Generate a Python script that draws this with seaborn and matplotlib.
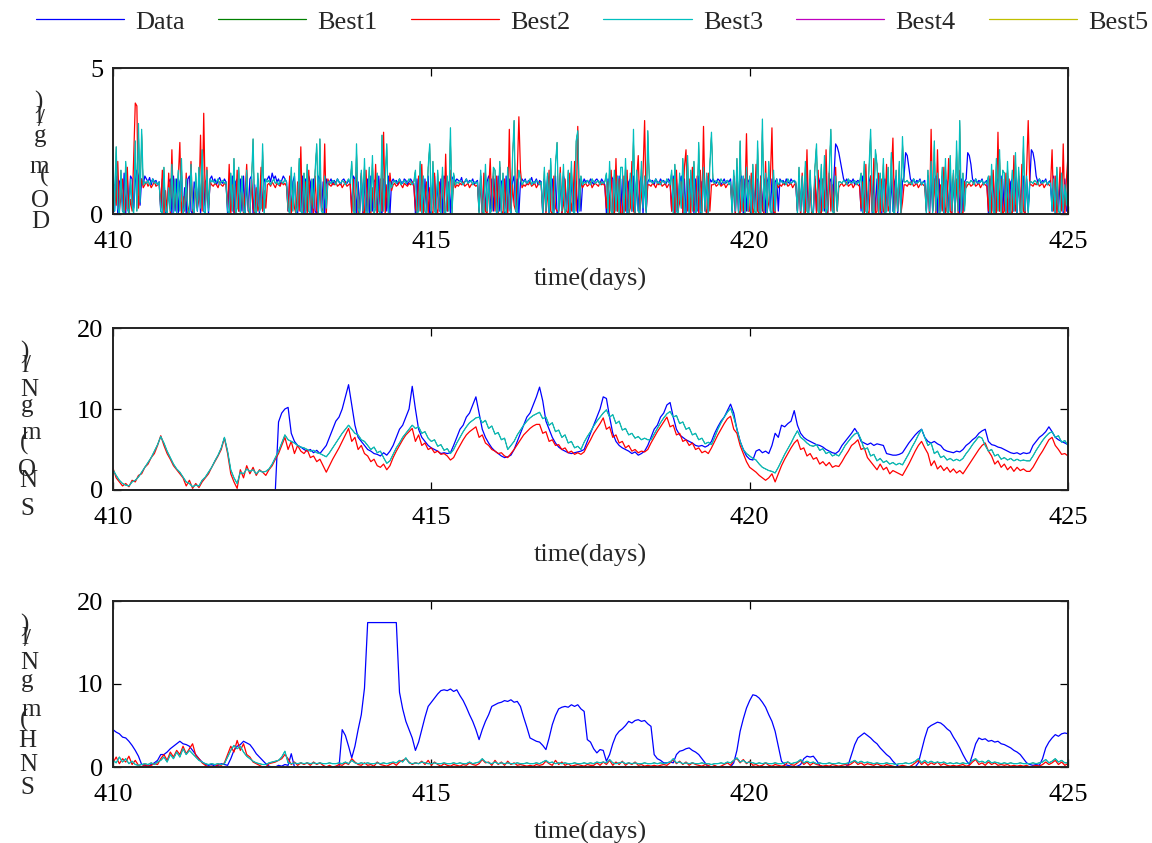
import numpy as np
import pandas as pd
import matplotlib
matplotlib.use("Agg")
import matplotlib.pyplot as plt
import seaborn as sns

# ---------------- data ----------------
SERIES = ["Data", "Best1", "Best2", "Best3", "Best4", "Best5"]
COLORS = ["#0000ff", "#008000", "#ff0000", "#00bfbf", "#bf00bf", "#bfbf00"]
XTICKS = [410, 415, 420, 425]
YLABELS = ["DO(mg/l)", "SNO(mgN/l)", "SNH(mgN/l)"]
XLABEL = "time(days)"

# DO, sampled every 0.025 day from day 410
DO_DATA = [
    1.2, 0.1, 1.3, 0.0, 1.1, 1.2, 0.1, 1.4, 0.0, 1.2, 0.1, 1.3, 1.2, 0.2, 1.1, 1.5, 1.3, 0.3, 1.2, 1.0, 1.3, 1.2, 1.1, 1.25, 1.0, 1.2, 1.1, 1.15, 1.0, 1.1, 0.1, 1.2, 1.3, 0.0, 0.1, 1.1, 1.2, 0.0, 1.3, 0.1,
    1.2, 0.0, 1.1, 1.3, 0.1, 0.9, 0.0, 1.2, 1.3, 0.1, 0.0, 1.1, 0.8, 0.1, 1.2, 0.0, 1.3, 0.1, 1.1, 1.2, 0.0, 1.2, 1.3, 1.1, 1.2, 1.0, 1.15, 1.25, 1.1, 1.05, 1.2, 1.1, 0.0, 1.2, 0.1, 1.3, 0.0, 1.1, 1.2, 0.1,
    1.2, 0.1, 1.3, 0.0, 1.1, 0.1, 1.2, 1.3, 0.0, 1.0, 0.1, 1.2, 0.0, 1.3, 0.1, 1.2, 1.1, 1.2, 1.3, 1.1, 1.4, 1.2, 1.3, 1.1, 1.2, 1.0, 1.15, 1.3, 1.2, 1.1, 0.1, 1.2, 0.0, 1.1, 1.3, 0.1, 0.0, 1.2, 0.1, 1.3,
    0.0, 1.2, 0.1, 1.3, 1.1, 0.0, 1.2, 0.1, 0.0, 1.3, 1.2, 0.1, 1.1, 0.0, 1.2, 1.0, 1.1, 1.2, 1.0, 1.15, 1.05, 1.2, 1.1, 1.0, 1.15, 1.2, 1.1, 1.05, 1.15, 1.1, 0.1, 1.3, 1.2, 0.0, 1.1, 0.1, 1.3, 0.0, 1.2, 0.1,
    1.2, 0.0, 1.3, 0.1, 1.1, 1.2, 0.0, 1.3, 0.1, 0.0, 1.2, 1.1, 0.1, 1.3, 0.0, 1.1, 1.2, 1.1, 1.15, 1.0, 1.2, 1.1, 1.05, 1.2, 1.15, 1.0, 1.1, 1.2, 1.1, 1.05, 0.0, 1.2, 0.1, 1.3, 1.1, 0.0, 1.2, 0.1, 1.3, 0.0,
    0.1, 1.2, 1.3, 0.0, 1.1, 0.1, 1.2, 0.0, 1.3, 1.2, 0.1, 1.1, 0.0, 1.2, 1.3, 1.1, 1.2, 1.15, 1.1, 1.25, 1.0, 1.1, 1.2, 1.05, 1.15, 1.1, 1.2, 1.0, 1.1, 1.15, 0.1, 1.3, 0.0, 1.2, 0.1, 1.1, 1.3, 0.0, 1.2, 0.1,
    1.2, 0.0, 1.3, 0.1, 1.1, 1.2, 0.0, 1.3, 0.1, 1.2, 0.0, 1.1, 1.3, 0.1, 1.2, 0.0, 1.1, 1.2, 1.1, 1.2, 1.0, 1.15, 1.1, 1.25, 1.05, 1.1, 1.2, 1.0, 1.15, 1.1, 0.0, 1.2, 0.1, 1.3, 0.0, 1.1, 1.2, 0.1, 1.3, 0.0,
    0.1, 1.2, 0.0, 1.3, 1.1, 0.1, 1.2, 0.0, 1.3, 0.1, 1.2, 1.1, 0.0, 1.2, 0.1, 1.0, 1.2, 1.1, 1.15, 1.05, 1.2, 1.1, 1.0, 1.15, 1.2, 1.1, 1.05, 1.2, 1.1, 1.0, 0.0, 1.2, 0.1, 1.3, 1.2, 0.0, 1.1, 0.1, 1.3, 0.0,
    1.2, 0.1, 1.3, 0.0, 1.1, 1.2, 0.1, 1.3, 0.0, 1.2, 0.1, 1.1, 1.3, 0.0, 1.2, 0.1, 1.1, 1.2, 1.1, 1.15, 1.0, 1.2, 1.1, 1.05, 1.2, 1.1, 1.15, 1.0, 1.1, 1.2, 1.1, 0.1, 1.3, 0.0, 1.2, 0.1, 1.1, 1.3, 0.0, 1.2,
    0.0, 1.2, 0.1, 1.3, 1.1, 0.0, 1.2, 0.1, 1.3, 0.0, 1.1, 1.2, 0.1, 1.3, 0.0, 1.2, 1.1, 1.2, 1.1, 1.05, 1.2, 1.15, 1.0, 1.1, 1.2, 1.05, 1.15, 1.1, 1.2, 0.1, 1.3, 0.0, 1.2, 0.1, 1.1, 1.3, 0.0, 1.2, 0.1, 1.1,
    1.2, 0.0, 1.3, 0.1, 1.1, 1.2, 0.0, 1.3, 0.1, 1.2, 0.0, 1.1, 1.3, 0.1, 1.2, 0.0, 1.1, 1.2, 0.1, 1.2, 1.1, 1.15, 1.0, 1.2, 1.1, 1.05, 1.2, 1.1, 1.15, 1.0, 0.1, 1.3, 0.0, 1.2, 0.1, 1.1, 1.3, 0.0, 1.2, 0.1,
    0.0, 1.2, 0.1, 1.3, 1.1, 0.0, 1.2, 0.1, 1.3, 0.0, 1.1, 1.2, 0.1, 1.3, 2.4, 2.3, 2.1, 1.8, 1.5, 1.2, 1.1, 1.2, 1.05, 1.15, 1.1, 1.2, 1.0, 1.1, 1.15, 1.1, 0.1, 1.3, 0.0, 1.2, 0.1, 1.1, 1.3, 0.0, 1.2, 0.1,
    1.2, 0.1, 1.3, 0.0, 1.1, 1.2, 0.1, 1.3, 0.0, 1.2, 0.1, 1.1, 1.3, 0.0, 1.2, 0.1, 1.1, 1.3, 2.1, 2.0, 1.6, 1.2, 1.1, 1.2, 1.05, 1.15, 1.1, 1.2, 1.0, 1.1, 1.15, 0.1, 1.3, 0.0, 1.2, 0.1, 1.1, 1.3, 0.0, 1.2,
    0.1, 1.3, 0.0, 1.2, 1.1, 0.1, 1.3, 0.0, 1.2, 0.1, 1.1, 1.3, 0.0, 1.2, 0.1, 1.1, 1.2, 2.1, 2.0, 1.7, 1.2, 1.1, 1.2, 1.05, 1.15, 1.1, 1.2, 1.0, 1.1, 1.15, 0.0, 1.2, 0.1, 1.3, 0.0, 1.1, 1.2, 0.1, 1.3, 0.0,
    1.2, 0.1, 1.3, 0.0, 1.1, 1.2, 0.1, 1.3, 0.0, 1.2, 0.1, 1.1, 1.3, 0.0, 1.2, 0.1, 1.1, 2.2, 2.1, 1.8, 1.3, 1.1, 1.2, 1.05, 1.15, 1.1, 1.2, 1.0, 1.1, 1.15, 0.1, 1.3, 0.0, 1.2, 0.1, 1.1, 1.3, 0.0, 1.2, 0.1,
    0.1]
DO_BEST2 = [
    0.0, 1.0, 0.3, 1.8, 0.1, 0.6, 1.2, 0.0, 0.2, 1.6, 0.0, 0.5, 0.1, 2.0, 3.8, 3.7, 0.2, 0.8, 1.2, 0.9, 1.0, 1.1, 0.95, 1.05, 0.9, 1.0, 1.1, 0.95, 1.0, 1.05, 0.2, 1.5, 0.0, 0.8, 0.1, 1.4, 0.0, 2.2, 0.1, 0.9,
    0.1, 1.2, 2.45, 0.0, 0.6, 0.1, 1.4, 0.0, 0.3, 1.8, 0.1, 0.0, 1.1, 0.2, 0.5, 2.7, 0.1, 3.45, 0.3, 1.6, 0.2, 1.1, 1.0, 0.95, 1.05, 1.0, 0.9, 1.1, 1.0, 0.95, 1.05, 1.0, 0.2, 1.7, 0.0, 1.0, 0.1, 0.0, 1.5, 0.1,
    0.1, 1.0, 0.0, 0.7, 1.7, 0.1, 0.0, 1.2, 0.2, 0.0, 0.9, 0.1, 0.3, 1.6, 0.1, 0.8, 0.2, 1.0, 1.05, 0.95, 1.1, 1.0, 0.9, 1.05, 1.0, 0.95, 1.1, 1.0, 1.05, 0.95, 0.1, 1.3, 0.0, 0.8, 0.2, 0.0, 1.1, 0.1, 2.3, 0.0,
    0.2, 1.1, 0.0, 1.5, 0.1, 0.6, 0.0, 1.3, 0.1, 0.0, 1.0, 0.2, 0.1, 2.4, 0.0, 1.2, 1.0, 0.95, 1.05, 1.0, 1.1, 0.95, 1.0, 1.05, 0.9, 1.0, 1.1, 0.95, 1.0, 1.05, 0.0, 1.2, 0.1, 1.6, 0.0, 0.3, 1.4, 0.1, 0.0, 1.5,
    0.1, 1.3, 0.0, 0.9, 0.2, 1.7, 0.0, 0.4, 1.2, 0.1, 2.8, 0.0, 1.0, 0.2, 1.4, 0.8, 1.0, 1.05, 0.95, 1.0, 1.1, 1.0, 0.9, 1.05, 1.0, 0.95, 1.05, 1.0, 1.1, 0.95, 0.2, 0.0, 1.3, 0.1, 1.7, 0.0, 0.5, 1.1, 0.0, 0.9,
    0.1, 0.0, 1.4, 0.2, 0.0, 1.1, 0.1, 1.3, 0.0, 2.05, 0.1, 0.9, 1.5, 0.2, 1.2, 0.9, 1.0, 0.95, 1.05, 1.0, 1.1, 0.95, 1.0, 1.05, 0.9, 1.0, 1.05, 1.0, 0.95, 1.0, 0.1, 1.2, 0.0, 1.4, 0.1, 0.0, 0.8, 1.9, 0.1, 1.3,
    0.1, 1.3, 0.0, 1.6, 0.1, 0.0, 1.2, 0.2, 0.0, 2.9, 0.1, 1.0, 0.3, 0.1, 1.4, 3.33, 1.5, 0.9, 1.0, 0.95, 1.05, 1.0, 1.1, 0.95, 1.0, 1.05, 0.9, 1.0, 1.1, 1.0, 0.1, 1.2, 0.0, 0.6, 1.5, 0.1, 0.0, 1.3, 0.2, 0.1,
    0.1, 1.6, 0.0, 0.3, 1.2, 0.1, 0.0, 1.4, 0.1, 0.5, 1.8, 0.1, 3.0, 0.2, 1.1, 0.9, 1.0, 1.05, 0.95, 1.0, 1.1, 0.9, 1.0, 1.05, 1.0, 0.95, 1.1, 1.0, 1.05, 0.95, 0.2, 1.1, 0.0, 1.5, 0.1, 0.0, 1.9, 0.1, 1.2, 0.0,
    0.0, 1.3, 0.1, 1.5, 0.0, 0.2, 1.8, 0.1, 0.0, 1.2, 2.0, 0.1, 0.6, 1.4, 3.2, 0.1, 1.0, 1.0, 0.95, 1.05, 1.0, 0.9, 1.05, 1.0, 1.1, 0.95, 1.0, 1.05, 0.9, 1.0, 1.05, 0.1, 1.2, 0.0, 1.5, 0.1, 0.4, 1.1, 0.0, 1.6,
    2.2, 0.1, 1.2, 0.0, 1.6, 0.1, 0.3, 1.3, 0.0, 1.5, 0.1, 3.0, 0.2, 0.0, 1.4, 0.1, 1.0, 1.0, 1.05, 0.95, 1.0, 1.1, 0.95, 1.0, 1.05, 0.9, 1.0, 1.05, 1.0, 0.2, 1.3, 0.0, 1.6, 0.1, 0.0, 1.2, 0.1, 0.5, 2.75, 0.1,
    0.1, 1.4, 0.0, 0.2, 1.7, 0.1, 0.0, 1.3, 0.2, 0.0, 1.8, 0.1, 0.4, 1.2, 2.95, 0.1, 0.0, 1.1, 0.9, 1.0, 0.95, 1.05, 1.0, 1.1, 0.95, 1.0, 1.05, 0.9, 1.0, 1.05, 0.1, 1.2, 0.0, 1.4, 0.1, 0.0, 2.2, 0.1, 0.8, 0.0,
    0.1, 1.3, 0.0, 1.5, 0.1, 0.0, 1.2, 0.2, 2.2, 0.0, 1.4, 0.1, 1.0, 0.0, 1.6, 0.1, 0.9, 1.0, 1.05, 0.95, 1.0, 1.1, 0.95, 1.0, 1.05, 0.9, 1.0, 1.05, 1.0, 0.95, 0.2, 1.1, 0.0, 1.7, 0.1, 0.0, 1.3, 0.1, 1.9, 0.0,
    0.1, 1.4, 0.0, 1.2, 0.1, 0.0, 1.7, 0.1, 0.3, 1.3, 2.6, 0.0, 1.1, 0.1, 1.5, 0.0, 0.4, 1.0, 1.0, 0.95, 1.05, 1.0, 1.1, 0.95, 1.0, 1.05, 0.9, 1.0, 1.05, 1.0, 0.95, 0.1, 1.3, 0.0, 2.9, 0.1, 1.2, 0.0, 2.2, 0.1,
    1.0, 0.1, 1.6, 0.0, 0.3, 1.9, 0.1, 0.0, 1.4, 0.1, 1.2, 0.0, 1.5, 0.1, 0.0, 1.1, 0.9, 1.0, 1.05, 0.95, 1.0, 1.1, 0.95, 1.0, 1.05, 0.9, 1.0, 1.05, 1.0, 0.95, 0.1, 1.3, 0.0, 1.5, 0.2, 0.0, 2.8, 0.1, 1.2, 0.0,
    0.1, 1.4, 0.0, 1.2, 0.1, 0.0, 2.0, 0.1, 0.4, 1.3, 0.0, 1.7, 0.1, 0.0, 1.5, 3.2, 1.0, 1.0, 0.95, 1.05, 1.0, 1.1, 0.95, 1.0, 1.05, 0.9, 1.0, 1.05, 1.0, 0.95, 2.2, 0.1, 1.3, 0.0, 0.5, 1.6, 0.1, 2.4, 0.0, 1.2,
    2.0]
DO_BEST3 = [
    2.2, 0.1, 2.3, 0.2, 0.0, 1.5, 0.1, 0.0, 1.8, 0.2, 0.0, 1.2, 0.3, 0.0, 2.5, 0.1, 3.1, 0.4, 2.9, 1.0, 1.1, 1.05, 1.15, 1.0, 1.1, 1.2, 1.05, 1.1, 1.0, 1.1, 0.1, 0.0, 1.6, 0.1, 0.0, 0.9, 0.1, 1.7, 0.0, 1.2,
    0.0, 1.5, 0.1, 1.9, 0.0, 0.2, 1.2, 0.1, 0.0, 1.7, 0.2, 0.0, 1.4, 0.1, 1.6, 0.2, 2.2, 0.1, 0.0, 1.5, 0.1, 1.2, 1.1, 1.15, 1.05, 1.1, 1.2, 1.0, 1.1, 1.15, 1.05, 1.1, 0.1, 0.0, 1.4, 0.1, 1.9, 0.0, 0.2, 1.6,
    0.0, 1.3, 0.1, 0.0, 1.5, 0.2, 0.0, 1.1, 2.57, 0.1, 0.0, 1.4, 0.1, 0.2, 2.4, 0.0, 1.2, 1.1, 1.15, 1.0, 1.1, 1.2, 1.05, 1.1, 1.0, 1.15, 1.1, 1.05, 1.2, 1.1, 0.2, 0.0, 1.6, 0.1, 1.4, 0.0, 0.2, 1.9, 0.1, 0.0,
    1.4, 0.0, 1.7, 0.1, 0.0, 1.2, 0.2, 1.5, 2.4, 0.0, 2.57, 0.1, 0.0, 1.3, 0.2, 1.1, 1.1, 1.05, 1.15, 1.1, 1.0, 1.2, 1.1, 1.05, 1.15, 1.1, 1.0, 1.1, 1.2, 1.05, 1.8, 0.1, 0.0, 2.4, 0.2, 0.0, 1.5, 0.1, 1.9, 0.0,
    0.0, 1.6, 0.1, 2.0, 0.0, 0.2, 1.4, 0.1, 0.0, 2.7, 0.1, 1.2, 2.4, 0.0, 1.1, 0.9, 1.1, 1.15, 1.05, 1.1, 1.2, 1.0, 1.1, 1.15, 1.05, 1.1, 1.2, 1.1, 1.0, 1.1, 1.5, 0.0, 0.1, 1.8, 0.0, 1.3, 0.1, 0.0, 1.6, 2.4,
    0.0, 1.8, 0.1, 0.0, 1.5, 0.2, 0.0, 1.6, 0.1, 0.0, 1.3, 0.1, 2.95, 0.0, 1.4, 1.0, 1.1, 1.05, 1.15, 1.1, 1.0, 1.1, 1.2, 1.05, 1.1, 1.15, 1.0, 1.1, 1.05, 1.1, 0.0, 1.5, 0.1, 0.0, 1.7, 0.1, 1.2, 0.0, 0.2, 1.6,
    1.5, 0.0, 0.1, 1.8, 0.0, 1.4, 0.1, 0.0, 1.6, 0.2, 0.0, 1.9, 3.2, 0.1, 0.0, 1.5, 1.2, 1.0, 1.1, 1.15, 1.05, 1.1, 1.2, 1.0, 1.1, 1.05, 1.15, 1.1, 1.0, 1.1, 0.0, 1.6, 0.1, 1.4, 0.0, 1.9, 0.1, 0.0, 1.7, 2.45,
    0.0, 1.4, 0.1, 1.7, 0.0, 0.2, 1.5, 0.0, 1.8, 0.1, 0.0, 2.5, 2.85, 0.1, 1.3, 1.0, 1.1, 1.05, 1.15, 1.1, 1.0, 1.2, 1.1, 1.05, 1.1, 1.15, 1.0, 1.1, 1.05, 1.1, 1.4, 0.0, 1.8, 0.1, 0.0, 1.5, 0.1, 1.3, 0.0, 1.6,
    1.6, 0.0, 1.9, 0.1, 0.0, 1.4, 0.1, 2.9, 0.0, 1.5, 0.1, 0.0, 1.8, 0.2, 1.3, 0.0, 2.85, 1.1, 1.15, 1.05, 1.1, 1.2, 1.05, 1.1, 1.0, 1.15, 1.1, 1.05, 1.2, 1.1, 1.0, 1.5, 0.0, 1.7, 0.1, 0.0, 1.4, 0.2, 1.9, 0.0,
    0.1, 2.0, 0.0, 1.5, 0.1, 1.8, 0.0, 0.2, 2.45, 0.1, 0.0, 1.6, 0.1, 1.4, 0.0, 1.7, 2.8, 1.1, 1.05, 1.15, 1.1, 1.0, 1.2, 1.1, 1.05, 1.1, 1.15, 1.0, 1.1, 0.0, 1.5, 0.1, 1.9, 0.0, 2.5, 0.1, 1.3, 0.0, 1.6, 0.1,
    1.3, 0.0, 1.7, 0.1, 0.0, 2.5, 0.1, 0.0, 3.25, 0.1, 1.4, 0.0, 1.8, 0.1, 0.0, 1.5, 0.1, 1.2, 1.0, 1.1, 1.15, 1.05, 1.1, 1.0, 1.2, 1.1, 1.05, 1.1, 1.15, 1.1, 0.0, 1.6, 0.1, 1.3, 0.0, 1.8, 0.1, 0.0, 1.5, 0.1,
    0.0, 1.6, 2.4, 0.1, 0.0, 1.7, 0.1, 2.0, 0.0, 0.2, 1.5, 2.9, 0.1, 0.0, 1.3, 0.1, 1.1, 1.1, 1.05, 1.15, 1.1, 1.0, 1.2, 1.1, 1.05, 1.1, 1.15, 1.0, 1.1, 1.05, 1.4, 0.0, 1.8, 0.1, 0.0, 1.6, 2.9, 0.1, 0.0, 2.2,
    1.7, 0.0, 1.4, 0.1, 1.9, 0.0, 0.1, 1.6, 0.0, 2.1, 0.1, 0.0, 1.5, 0.1, 1.8, 0.0, 2.65, 1.1, 1.1, 1.15, 1.05, 1.1, 1.0, 1.2, 1.1, 1.05, 1.1, 1.15, 1.0, 1.1, 1.05, 0.0, 1.5, 0.1, 1.8, 0.0, 2.5, 0.1, 1.4, 0.0,
    0.1, 1.6, 0.0, 1.9, 0.1, 0.0, 2.0, 0.1, 1.5, 0.0, 2.5, 0.1, 3.2, 0.0, 1.4, 0.1, 1.1, 1.1, 1.05, 1.15, 1.1, 1.0, 1.2, 1.1, 1.05, 1.1, 1.15, 1.0, 1.1, 1.05, 1.3, 0.0, 1.7, 0.1, 0.0, 1.9, 0.1, 2.2, 0.0, 1.5,
    1.4, 0.0, 1.8, 0.1, 0.0, 1.5, 0.1, 2.1, 0.0, 1.6, 0.1, 0.0, 2.65, 0.1, 1.3, 0.0, 1.1, 1.1, 1.05, 1.15, 1.1, 1.0, 1.2, 1.1, 1.05, 1.1, 1.15, 1.0, 1.1, 1.05, 0.1, 1.2, 0.0, 1.6, 0.1, 0.0, 1.4, 0.1, 1.0, 0.3,
    1.3]

# SNO, sampled every 0.05 day from day 410
SNO_DATA = [
    0.0, 0.0, 0.0, 0.0, 0.0, 0.0, 0.0, 0.0, 0.0, 0.0, 0.0, 0.0, 0.0, 0.0, 0.0, 0.0, 0.0, 0.0, 0.0, 0.0,
    0.0, 0.0, 0.0, 0.0, 0.0, 0.0, 0.0, 0.0, 0.0, 0.0, 0.0, 0.0, 0.0, 0.0, 0.0, 0.0, 0.0, 0.0, 0.0, 0.0,
    0.0, 0.0, 0.0, 0.0, 0.0, 0.0, 0.0, 0.0, 0.0, 0.0, 0.0, 0.0, 8.4, 9.5, 10.0, 10.2, 7.0, 6.0, 5.5, 5.3,
    5.0, 4.8, 5.0, 4.6, 4.9, 4.5, 5.0, 5.5, 6.5, 7.5, 8.5, 9.0, 10.0, 11.5, 13.0, 10.5, 8.0, 6.5, 6.0, 5.5,
    5.0, 4.8, 4.5, 4.4, 4.2, 4.6, 4.3, 4.8, 5.5, 6.5, 7.5, 8.0, 9.0, 10.0, 12.8, 10.0, 7.5, 6.5, 6.0, 5.5,
    5.2, 5.0, 4.8, 4.5, 4.6, 4.5, 4.6, 5.5, 6.5, 7.5, 8.0, 9.0, 9.5, 10.5, 11.5, 9.5, 7.5, 6.5, 5.8, 5.2,
    4.8, 4.5, 4.2, 4.0, 4.1, 4.3, 5.0, 6.0, 7.0, 8.0, 9.0, 9.5, 10.5, 11.5, 12.7, 11.0, 8.5, 7.5, 6.5, 5.8,
    5.3, 5.0, 4.8, 4.6, 4.5, 4.6, 4.7, 4.8, 5.0, 6.0, 7.0, 8.0, 9.0, 10.0, 11.5, 11.3, 9.0, 7.0, 6.0, 5.5,
    5.2, 5.0, 4.8, 4.5, 4.7, 4.3, 4.5, 4.8, 5.5, 6.5, 7.5, 8.0, 9.0, 9.5, 10.5, 10.8, 9.0, 7.5, 6.8, 6.5,
    6.2, 6.0, 5.8, 5.5, 5.4, 5.5, 5.3, 5.5, 6.0, 7.0, 7.8, 8.5, 9.0, 9.8, 10.6, 9.5, 7.5, 6.0, 5.0, 4.2,
    3.8, 3.7, 4.8, 5.0, 4.6, 4.8, 4.5, 5.5, 7.0, 6.5, 8.0, 7.8, 8.2, 8.5, 9.8, 8.0, 7.0, 6.5, 6.2, 6.0,
    5.8, 5.6, 5.5, 5.3, 5.0, 4.8, 4.6, 4.5, 4.8, 5.5, 6.0, 6.5, 7.0, 7.6, 7.0, 6.0, 5.8, 5.6, 5.8, 5.5,
    5.7, 5.6, 5.5, 4.5, 4.4, 4.3, 4.3, 4.4, 4.6, 5.2, 5.8, 6.3, 6.8, 7.2, 7.5, 6.5, 6.0, 5.8, 6.0, 5.7,
    5.5, 5.0, 4.8, 4.7, 4.6, 4.8, 4.7, 5.0, 5.5, 5.8, 6.2, 6.5, 7.0, 7.3, 7.5, 6.0, 5.6, 5.5, 5.3, 5.2,
    5.0, 4.8, 4.6, 4.5, 4.6, 4.4, 4.6, 4.5, 4.6, 5.5, 6.0, 6.5, 6.8, 7.2, 7.8, 7.2, 6.5, 6.2, 6.0, 5.8,
    5.6]
SNO_BEST2 = [
    2.7, 1.5, 1.0, 0.5, 0.8, 0.4, 1.2, 1.0, 1.8, 2.0, 2.8, 3.2, 4.0, 4.5, 5.5, 6.7, 5.5, 4.5, 3.8, 3.0,
    2.5, 2.0, 1.5, 0.5, 1.2, 0.2, 0.8, 0.3, 1.0, 1.5, 2.0, 2.8, 3.5, 4.2, 5.0, 6.4, 4.5, 2.0, 1.0, 0.2,
    2.5, 1.5, 3.0, 2.0, 2.8, 1.8, 2.5, 2.2, 1.8, 2.5, 3.0, 3.8, 4.5, 5.5, 6.5, 5.0, 6.0, 4.5, 5.5, 4.8,
    4.5, 5.0, 4.0, 4.2, 3.5, 3.8, 3.0, 2.2, 3.0, 3.8, 4.5, 5.2, 6.0, 6.8, 7.6, 6.0, 6.5, 5.0, 5.5, 4.5,
    4.2, 3.5, 3.8, 3.0, 2.8, 3.2, 2.5, 3.0, 4.0, 4.8, 5.5, 6.2, 6.8, 7.2, 7.6, 6.0, 6.8, 5.5, 5.8, 5.0,
    5.2, 4.6, 4.8, 4.4, 4.5, 4.2, 3.7, 4.0, 4.8, 5.5, 6.2, 6.8, 7.2, 7.5, 7.8, 6.5, 6.8, 5.8, 5.5, 5.0,
    4.8, 4.5, 4.6, 4.2, 4.0, 4.5, 5.0, 5.6, 6.2, 6.8, 7.2, 7.6, 7.9, 8.1, 8.1, 7.0, 7.2, 6.0, 6.2, 5.5,
    5.6, 5.0, 5.2, 4.6, 4.8, 4.4, 4.6, 4.4, 4.7, 5.5, 6.2, 7.0, 7.6, 8.2, 8.9, 7.5, 7.8, 6.5, 6.8, 5.8,
    6.0, 5.2, 5.5, 4.8, 5.0, 4.6, 4.8, 4.7, 5.0, 5.8, 6.5, 7.2, 7.8, 8.4, 9.0, 7.8, 8.0, 6.8, 7.0, 6.0,
    6.2, 5.5, 5.8, 5.0, 5.2, 4.6, 4.8, 4.5, 5.2, 6.0, 6.8, 7.5, 8.2, 8.8, 9.1, 7.5, 7.0, 5.5, 4.5, 3.5,
    2.8, 2.5, 2.2, 1.8, 1.5, 1.2, 1.5, 2.0, 1.0, 2.0, 3.0, 3.8, 4.5, 5.2, 5.8, 6.2, 5.0, 5.2, 4.2, 4.5,
    3.8, 4.0, 3.2, 3.5, 3.0, 3.4, 2.8, 3.0, 2.9, 3.5, 4.2, 4.8, 5.5, 5.8, 6.2, 5.0, 5.2, 4.0, 3.5, 3.0,
    2.5, 3.2, 2.5, 2.8, 2.0, 2.4, 2.2, 2.0, 1.8, 2.5, 3.2, 4.0, 4.8, 5.5, 6.0, 5.2, 4.5, 3.0, 3.6, 2.6,
    3.0, 2.4, 2.8, 2.2, 2.6, 2.1, 2.4, 2.0, 2.6, 3.2, 3.8, 4.4, 5.0, 5.5, 5.8, 4.8, 4.2, 3.2, 3.6, 2.8,
    3.2, 2.5, 2.9, 2.3, 2.8, 2.4, 2.6, 2.3, 2.3, 2.8, 3.5, 4.2, 4.8, 5.5, 6.2, 6.5, 5.5, 5.0, 4.4, 4.5,
    4.2]
SNO_BEST3 = [
    2.5, 1.8, 1.2, 0.8, 0.6, 0.5, 1.0, 1.2, 1.6, 2.2, 2.8, 3.4, 4.0, 4.8, 5.6, 6.6, 5.8, 4.8, 4.0, 3.2,
    2.6, 2.2, 1.6, 1.0, 0.8, 0.4, 0.6, 0.5, 1.2, 1.6, 2.2, 2.8, 3.6, 4.3, 5.2, 6.5, 4.8, 2.5, 1.5, 0.8,
    2.2, 2.0, 2.6, 2.3, 2.5, 2.0, 2.4, 2.2, 2.3, 2.6, 3.2, 4.0, 4.8, 5.8, 6.8, 6.2, 6.0, 5.8, 5.5, 5.3,
    5.2, 5.0, 4.8, 4.9, 4.6, 4.5, 4.3, 4.1, 4.6, 5.2, 5.8, 6.4, 7.0, 7.5, 8.0, 7.5, 7.0, 6.8, 6.2, 6.0,
    5.5, 5.0, 5.3, 4.6, 4.8, 4.0, 3.3, 3.6, 4.4, 5.2, 5.8, 6.5, 7.0, 7.5, 8.0, 7.6, 7.8, 7.0, 7.2, 6.4,
    6.0, 6.2, 5.4, 5.6, 4.9, 5.1, 4.5, 5.0, 5.8, 6.5, 7.2, 7.8, 8.3, 8.6, 8.9, 9.0, 8.3, 8.6, 7.6, 7.9,
    6.9, 7.1, 6.2, 6.4, 5.0, 5.5, 6.0, 6.8, 7.4, 8.0, 8.5, 8.9, 9.2, 9.4, 9.6, 8.8, 9.0, 8.0, 8.3, 7.2,
    7.4, 6.5, 6.8, 5.8, 6.0, 5.2, 5.4, 5.0, 5.9, 6.6, 7.2, 7.9, 8.5, 9.0, 9.5, 9.9, 9.0, 9.3, 8.2, 8.5,
    7.4, 7.6, 6.8, 7.0, 6.4, 6.6, 6.2, 6.4, 6.2, 6.2, 6.9, 7.6, 8.3, 8.9, 9.4, 9.7, 9.0, 9.2, 8.2, 8.4,
    7.5, 7.7, 6.8, 7.0, 6.2, 6.4, 5.7, 5.9, 5.6, 6.5, 7.5, 8.3, 9.0, 9.6, 10.1, 9.0, 7.5, 6.0, 5.0, 4.5,
    4.2, 3.9, 3.7, 3.2, 2.8, 2.6, 2.4, 2.3, 2.1, 2.8, 3.6, 4.4, 5.1, 5.8, 6.6, 7.3, 6.5, 6.2, 5.8, 5.5,
    5.4, 5.6, 4.9, 5.1, 4.5, 4.7, 4.2, 4.4, 4.2, 4.8, 5.5, 6.0, 6.5, 6.9, 7.1, 6.2, 5.0, 5.2, 4.2, 4.4,
    3.6, 3.9, 3.4, 3.6, 3.2, 3.4, 3.1, 3.3, 3.1, 3.8, 4.5, 5.3, 6.0, 6.8, 7.5, 6.5, 5.5, 5.8, 4.5, 4.8,
    4.0, 4.2, 3.7, 3.9, 3.6, 3.8, 3.6, 3.9, 4.5, 5.0, 5.6, 6.1, 6.6, 6.4, 5.5, 4.8, 5.0, 4.2, 4.4, 3.8,
    4.0, 3.7, 3.9, 3.6, 3.8, 3.6, 3.7, 3.6, 3.6, 4.2, 4.9, 5.5, 6.1, 6.6, 7.0, 7.2, 6.5, 6.7, 5.9, 6.1,
    5.5]

# SNH, sampled every 0.05 day from day 410
SNH_DATA = [
    4.5, 4.2, 4.0, 3.6, 3.5, 3.1, 2.6, 2.0, 1.3, 0.3, 0.2, 0.1, 0.3, 0.5, 0.8, 1.5, 1.5, 1.8, 2.2, 2.5,
    2.8, 3.1, 2.8, 2.7, 2.5, 2.0, 1.5, 1.0, 0.6, 0.3, 0.2, 0.3, 0.1, 0.2, 0.4, 0.3, 0.2, 1.0, 2.0, 2.5,
    2.7, 3.1, 2.9, 2.7, 2.2, 1.6, 1.2, 0.8, 0.4, 0.1, 0.0, 0.0, 0.2, 0.1, 0.3, 0.2, 1.6, 0.0, 0.0, 0.0,
    0.0, 0.0, 0.0, 0.0, 0.0, 0.0, 0.0, 0.0, 0.0, 0.0, 0.0, 0.0, 4.5, 3.8, 2.5, 1.1, 2.5, 4.5, 6.3, 9.5,
    17.4, 17.4, 17.4, 17.4, 17.4, 17.4, 17.4, 17.4, 17.4, 17.4, 9.0, 7.0, 5.5, 4.5, 3.5, 2.0, 3.0, 4.5, 6.0, 7.3,
    7.8, 8.3, 8.8, 9.2, 9.3, 9.2, 9.4, 9.1, 9.3, 8.6, 8.0, 7.2, 6.3, 5.5, 4.5, 3.3, 4.5, 5.5, 6.3, 7.3,
    7.5, 7.7, 7.8, 8.0, 7.9, 8.1, 7.8, 7.9, 7.3, 6.0, 4.8, 3.5, 3.3, 3.1, 3.0, 2.6, 2.1, 3.5, 5.1, 6.2,
    7.0, 7.2, 7.3, 7.2, 7.5, 7.3, 7.5, 7.0, 6.7, 3.3, 3.0, 2.2, 1.7, 2.1, 2.0, 0.7, 1.5, 2.8, 3.8, 4.3,
    4.6, 5.0, 5.5, 5.3, 5.6, 5.7, 5.5, 5.6, 5.2, 4.9, 1.5, 1.0, 0.8, 0.5, 0.5, 0.6, 0.5, 1.5, 1.9, 2.0,
    2.2, 2.3, 2.0, 1.8, 1.5, 1.0, 0.5, 0.0, 0.0, 0.0, 0.0, 0.0, 0.0, 0.0, 0.0, 0.5, 2.0, 4.3, 5.8, 7.1,
    8.0, 8.7, 8.6, 8.3, 7.8, 7.2, 6.3, 5.5, 4.3, 2.5, 0.7, 0.3, 0.2, 0.1, 0.0, 0.1, 0.3, 1.0, 1.3, 1.2,
    1.3, 0.8, 0.2, 0.0, 0.0, 0.0, 0.0, 0.0, 0.0, 0.0, 0.0, 0.3, 1.5, 2.7, 3.5, 3.8, 4.1, 3.8, 3.5, 3.1,
    2.8, 2.3, 1.9, 1.5, 1.2, 0.7, 0.3, 0.0, 0.0, 0.0, 0.0, 0.0, 0.0, 0.5, 2.0, 3.5, 4.7, 5.0, 5.2, 5.4,
    5.3, 5.0, 4.6, 4.3, 3.6, 3.0, 2.3, 1.5, 0.8, 0.3, 1.5, 2.8, 3.5, 3.3, 3.4, 3.1, 3.2, 3.0, 3.1, 2.8,
    2.7, 2.5, 2.3, 2.0, 1.8, 1.5, 1.0, 0.5, 0.3, 0.2, 0.3, 0.2, 1.0, 2.3, 3.0, 3.5, 3.9, 3.7, 4.0, 4.1,
    4.0]
SNH_BEST2 = [
    0.5, 1.2, 0.4, 1.0, 0.6, 1.3, 0.3, 0.8, 0.2, 0.0, 0.3, 0.1, 0.2, 0.4, 0.3, 1.0, 1.5, 0.8, 1.8, 1.2,
    2.0, 1.5, 2.5, 1.6, 2.2, 2.8, 1.4, 1.0, 0.5, 0.2, 0.0, 0.1, 0.0, 0.3, 0.2, 0.5, 1.5, 2.5, 1.8, 3.2,
    2.0, 2.8, 1.5, 1.2, 0.6, 0.4, 0.2, 0.0, 0.0, 0.4, 0.5, 0.6, 0.8, 1.0, 1.5, 1.0, 0.3, 0.6, 0.2, 0.5,
    0.3, 0.5, 0.2, 0.6, 0.3, 0.5, 0.2, 0.0, 0.2, 0.0, 0.1, 0.3, 0.2, 0.5, 0.3, 1.0, 0.6, 0.3, 0.2, 0.5,
    0.2, 0.3, 0.1, 0.6, 0.3, 0.2, 0.1, 0.3, 0.5, 0.2, 0.6, 0.8, 1.0, 0.6, 0.3, 0.5, 0.4, 0.7, 0.3, 0.8,
    0.2, 0.6, 0.3, 0.1, 0.4, 0.2, 0.1, 0.3, 0.2, 0.1, 0.3, 0.2, 0.5, 0.3, 0.2, 0.4, 0.9, 0.5, 0.6, 0.2,
    0.8, 0.3, 0.6, 0.2, 0.7, 0.3, 0.5, 0.2, 0.3, 0.2, 0.1, 0.2, 0.1, 0.3, 0.2, 0.3, 0.7, 0.4, 0.2, 0.8,
    0.3, 0.6, 0.2, 0.4, 0.1, 0.2, 0.3, 0.2, 0.1, 0.3, 0.2, 0.2, 0.5, 0.2, 0.6, 0.3, 0.8, 0.2, 0.6, 0.3,
    0.7, 0.2, 0.5, 0.3, 0.6, 0.2, 0.3, 0.1, 0.2, 0.1, 0.2, 0.1, 0.2, 0.3, 0.2, 0.5, 0.9, 0.4, 0.7, 0.3,
    0.6, 0.2, 0.5, 0.3, 0.2, 0.1, 0.3, 0.2, 0.0, 0.2, 0.0, 0.1, 0.3, 0.5, 0.2, 0.8, 1.0, 0.5, 0.9, 0.4,
    0.7, 0.2, 0.3, 0.1, 0.2, 0.5, 0.2, 0.1, 0.3, 0.2, 0.1, 0.2, 0.6, 0.3, 0.2, 0.5, 0.8, 0.3, 0.6, 0.2,
    0.5, 0.3, 0.2, 0.1, 0.2, 0.1, 0.3, 0.2, 0.1, 0.2, 0.3, 0.2, 0.4, 0.7, 0.3, 0.5, 0.2, 0.4, 0.3, 0.2,
    0.4, 0.2, 0.1, 0.3, 0.2, 0.1, 0.0, 0.1, 0.2, 0.1, 0.0, 0.2, 0.5, 0.8, 0.3, 0.6, 0.2, 0.5, 0.3, 0.6,
    0.2, 0.4, 0.2, 0.1, 0.2, 0.1, 0.2, 0.3, 0.1, 0.2, 0.6, 0.9, 0.3, 0.5, 0.2, 0.6, 0.3, 0.5, 0.2, 0.3,
    0.2, 0.3, 0.1, 0.2, 0.1, 0.2, 0.1, 0.2, 0.0, 0.1, 0.2, 0.1, 0.3, 0.6, 0.3, 0.5, 0.8, 0.3, 0.6, 0.2,
    0.4]
SNH_BEST3 = [
    0.8, 0.5, 1.2, 0.6, 1.0, 0.4, 0.7, 0.3, 0.2, 0.3, 0.4, 0.3, 0.5, 0.3, 0.6, 0.8, 1.2, 0.6, 1.5, 1.0,
    1.8, 1.2, 2.2, 1.5, 2.0, 1.6, 1.2, 0.8, 0.6, 0.4, 0.3, 0.4, 0.3, 0.4, 0.3, 0.4, 1.2, 2.0, 2.6, 2.2,
    2.5, 1.8, 1.3, 1.0, 0.7, 0.5, 0.4, 0.3, 0.3, 0.5, 0.6, 0.7, 0.8, 1.2, 1.9, 0.5, 0.4, 0.5, 0.4, 0.5,
    0.4, 0.5, 0.4, 0.5, 0.4, 0.5, 0.4, 0.4, 0.5, 0.4, 0.4, 0.5, 0.4, 0.6, 0.4, 0.8, 0.5, 0.4, 0.5, 0.4,
    0.5, 0.4, 0.4, 0.5, 0.4, 0.5, 0.4, 0.5, 0.6, 0.5, 0.8, 0.6, 1.1, 0.5, 0.4, 0.5, 0.4, 0.6, 0.5, 0.4,
    0.4, 0.5, 0.4, 0.4, 0.5, 0.4, 0.4, 0.5, 0.4, 0.5, 0.4, 0.4, 0.6, 0.4, 0.5, 0.6, 1.0, 0.6, 0.5, 0.4,
    0.6, 0.4, 0.5, 0.4, 0.5, 0.4, 0.4, 0.5, 0.4, 0.4, 0.5, 0.4, 0.4, 0.5, 0.4, 0.6, 0.8, 0.5, 0.6, 0.4,
    0.5, 0.4, 0.5, 0.4, 0.4, 0.5, 0.4, 0.4, 0.5, 0.4, 0.5, 0.4, 0.6, 0.5, 0.6, 0.5, 0.9, 0.5, 0.4, 0.5,
    0.6, 0.4, 0.5, 0.4, 0.5, 0.4, 0.4, 0.5, 0.4, 0.4, 0.5, 0.4, 0.5, 0.4, 0.5, 0.6, 1.0, 0.5, 0.6, 0.4,
    0.5, 0.4, 0.5, 0.4, 0.4, 0.5, 0.4, 0.4, 0.3, 0.4, 0.4, 0.5, 0.4, 0.6, 0.5, 0.8, 1.1, 0.6, 0.8, 0.5,
    0.6, 0.5, 0.4, 0.5, 0.4, 0.5, 0.4, 0.4, 0.5, 0.4, 0.4, 0.5, 0.6, 0.4, 0.5, 0.6, 0.9, 0.5, 0.7, 0.5,
    0.6, 0.4, 0.5, 0.4, 0.4, 0.5, 0.4, 0.4, 0.5, 0.4, 0.4, 0.5, 0.6, 0.8, 0.5, 0.7, 0.5, 0.6, 0.5, 0.4,
    0.5, 0.4, 0.4, 0.5, 0.4, 0.4, 0.3, 0.4, 0.4, 0.5, 0.4, 0.5, 0.7, 1.0, 0.5, 0.8, 0.5, 0.7, 0.5, 0.6,
    0.5, 0.6, 0.4, 0.5, 0.4, 0.5, 0.4, 0.5, 0.4, 0.5, 0.8, 1.0, 0.6, 0.7, 0.5, 0.8, 0.5, 0.6, 0.5, 0.4,
    0.5, 0.4, 0.5, 0.4, 0.4, 0.5, 0.4, 0.4, 0.4, 0.5, 0.4, 0.5, 0.6, 0.9, 0.5, 0.7, 1.0, 0.6, 0.8, 0.5,
    0.5]

# ---------------- style ----------------
sns.set_style("ticks")
plt.rcParams["font.family"] = ["Liberation Serif", "DejaVu Serif"]
plt.rcParams["axes.unicode_minus"] = False

W, H = 1152, 843
fig = plt.figure(figsize=(W / 100, H / 100), dpi=100)


def px_axes(left, top, right, bottom):
    return fig.add_axes([left / W, 1 - bottom / H, (right - left) / W, (bottom - top) / H])


panels = [
    dict(box=(113, 68, 1068, 214), ylim=(0, 5), yticks=[0, 5],
         data={"Data": DO_DATA, "Best2": DO_BEST2, "Best3": DO_BEST3}, step=0.025),
    dict(box=(113, 328, 1068, 490), ylim=(0, 20), yticks=[0, 10, 20],
         data={"Data": SNO_DATA, "Best2": SNO_BEST2, "Best3": SNO_BEST3}, step=0.05),
    dict(box=(113, 601, 1068, 767), ylim=(0, 20), yticks=[0, 10, 20],
         data={"Data": SNH_DATA, "Best2": SNH_BEST2, "Best3": SNH_BEST3}, step=0.05),
]
# hidden series: they coincide with Best3 in the picture and are covered by it
for p in panels:
    p["data"]["Best1"] = p["data"]["Best3"]
    p["data"]["Best4"] = p["data"]["Best3"]
    p["data"]["Best5"] = p["data"]["Best3"]

color_of = dict(zip(SERIES, COLORS))
draw_order = ["Best1", "Best4", "Best5", "Data", "Best2", "Best3"]
hidden = {"Best1", "Best4", "Best5"}

# per-character positions of the stacked y labels (x px, offset px above axes bottom)
label_layout = [
    [(40, -8), (40, 13), (44, 39), (39, 47), (40, 78), (42, 94), (39, 97), (38, 112)],
    [(27, -19), (28, 9), (27, 20), (24, 47), (31, 57), (27, 84), (29, 100), (28, 124), (25, 124), (24, 138)],
    [(27, -21), (28, 2), (27, 26), (24, 47), (31, 57), (27, 86), (29, 104), (28, 127), (25, 129), (24, 142)],
]

handles = {}
for k, p in enumerate(panels):
    ax = px_axes(*p["box"])
    for name in draw_order:
        vals = np.asarray(p["data"][name], dtype=float)
        t = 410 + p["step"] * np.arange(len(vals))
        df = pd.DataFrame({"t": t, "v": vals})
        sns.lineplot(data=df, x="t", y="v", ax=ax, color=color_of[name],
                     lw=0.35 if name in hidden else 0.9,
                     sort=False, estimator=None, legend=False, zorder=2)
        if k == 0:
            handles[name] = ax.get_lines()[-1]
    ax.set_xlim(410, 425)
    ax.set_ylim(*p["ylim"])
    ax.set_xticks(XTICKS)
    ax.set_yticks(p["yticks"])
    ax.set_ylabel("")
    ax.set_xlabel(XLABEL, fontsize=19, labelpad=10.5)
    ax.tick_params(direction="in", length=6, width=0.9, top=True, right=True,
                   labelsize=19, colors="black")
    ax.tick_params(axis="x", pad=12.5)
    ax.tick_params(axis="y", pad=7)
    for s in ax.spines.values():
        s.set_visible(True)
        s.set_color("#222222")
        s.set_linewidth(1.4)
    # stacked y label characters
    bottom = p["box"][3]
    for ch, (xp, dy) in zip(YLABELS[k], label_layout[k]):
        fig.text(xp / W, 1 - (bottom - dy) / H, ch, ha="center", va="center", fontsize=18)

from matplotlib.lines import Line2D
leg_handles = [Line2D([], [], color=color_of[s], lw=0.9) for s in SERIES]
fig.legend(leg_handles, SERIES, loc="center", ncol=6,
           bbox_to_anchor=(592 / W, 1 - 22 / H), frameon=False, fontsize=19,
           handlelength=3.35, handletextpad=0.42, columnspacing=1.25)

fig.savefig("out.png", dpi=100)
